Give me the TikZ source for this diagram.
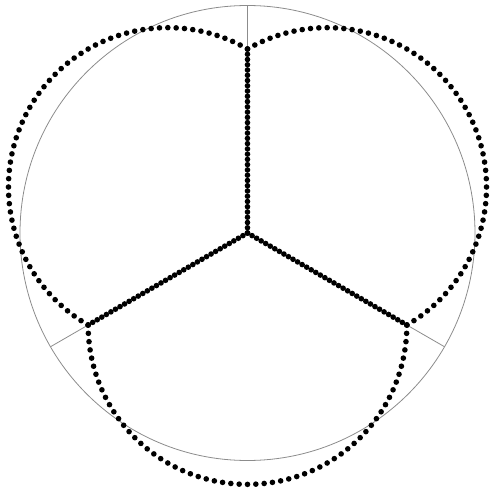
\documentclass[tikz,border=0pt]{standalone}
\usetikzlibrary{calc}

\begin{document}
\begin{tikzpicture}[
  x=1pt, y=1pt,
  guide/.style={draw=gray!90, line width=0.8pt},
  bead/.style={fill=black}
]
  \useasboundingbox (-247.5,-258) rectangle (243.5,233);
  \def\R{227.5}  % outer circle
  \def\r{184}    % spokes
  \coordinate (O) at (0,0);

  % circle and radii
  \draw[guide] (O) circle (\R pt);
  \foreach \a in {90,210,330} \draw[guide] (O) -- (\a:\R);

  % dotted spokes
  \foreach \a in {90,210,330}
    \foreach \i in {0,...,35}
      \fill[bead] (O) ++(\a:\i*\r/35) circle (2.8pt);

  % dotted half circles between spoke ends
  \foreach \a in {90,210,330} {
    \coordinate (M) at ($(O)+(\a+60:\r/2)$);
    \foreach \j in {0,...,60}
      \fill[bead] (M) ++(\a-30+3*\j:0.8660254*\r) circle (2.8pt);
  }
\end{tikzpicture}
\end{document}
